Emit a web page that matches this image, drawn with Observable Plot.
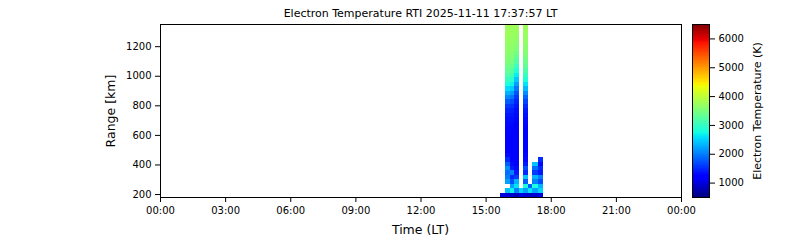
<!DOCTYPE html>
<html>
<head>
<meta charset="utf-8">
<script src="https://cdn.jsdelivr.net/npm/d3@7"></script>
<script src="https://cdn.jsdelivr.net/npm/@observablehq/plot@0.6"></script>
<style>
  html, body { margin: 0; padding: 0; background: white; }
  #chart { position: relative; width: 800px; height: 240px; background: white; font-family: "DejaVu Sans", sans-serif; color: black; }
  .lbl { position: absolute; white-space: nowrap; font-family: "DejaVu Sans", sans-serif; color: black; }
</style>
</head>
<body>
<div id="chart"></div>
<script>
// ---- data ----
const titleText = "Electron Temperature RTI 2025-11-11 17:37:57 LT";
const xLabel = "Time (LT)";
const yLabel = "Range [km]";
const cLabel = "Electron Temperature (K)";

const xTicks = [0, 3, 6, 9, 12, 15, 18, 21, 24];
const xTickLabels = ["00:00", "03:00", "06:00", "09:00", "12:00", "15:00", "18:00", "21:00", "00:00"];
const yTicks = [200, 400, 600, 800, 1000, 1200];
const cTicks = [1000, 2000, 3000, 4000, 5000, 6000];

// time column edges (hours LT)
const timeEdges = [15.66, 15.89, 16.10, 16.31, 16.54, 16.72, 16.93, 17.14, 17.39, 17.64];
// range gate edges (km)
const gateEdges = [180, 210, 240, 270, 300, 330, 360, 390, 420, 450, 480, 510, 540, 570, 600, 630, 660, 690, 720, 750,
  780, 810, 840, 870, 900, 930, 960, 990, 1020, 1050, 1080, 1110, 1140, 1170, 1200, 1230, 1260, 1290, 1320, 1350];

// electron temperature (K) per column, gate by gate from the bottom
const col0 = [1000];
const col1 = [950, 2400, null, 2200, 2000, 1900, 2100, 1800, 1500, 1300,
  1250, 1250, 1250, 1260, 1270, 1280, 1300, 1330, 1380, 1460,
  1600, 1800, 2050, 2300, 2550, 2800, 3000, 3180, 3320, 3430,
  3510, 3570, 3620, 3650, 3680, 3700, 3720, 3740, 3750];
const col2 = [900, 2700, 2200, 1700, 1500, 2000, 1400, 1300, 1250, 1250,
  1230, 1230, 1240, 1250, 1260, 1270, 1290, 1320, 1360, 1430,
  1550, 1720, 1950, 2200, 2450, 2700, 2920, 3100, 3250, 3370,
  3460, 3530, 3590, 3630, 3660, 3690, 3710, 3730, 3750];
const col3 = [850, 2000, 2600, 2300, 1600, 1400, 1300, 1250, 1250, 1250,
  1200, 1200, 1210, 1220, 1230, 1240, 1250, 1270, 1290, 1320,
  1380, 1460, 1580, 1750, 1950, 2180, 2420, 2650, 2850, 3030,
  3200, 3330, 3440, 3530, 3600, 3650, 3690, 3720, 3740];
const col4 = [1000, 2500];
const col5 = [950, 2200, 2800, 1800, 2400, 1500, 1700, 1400, 1300, 1280,
  1220, 1220, 1230, 1240, 1250, 1260, 1280, 1300, 1340, 1400,
  1500, 1650, 1850, 2100, 2350, 2600, 2820, 3000, 3160, 3300,
  3400, 3480, 3550, 3600, 3640, 3680, 3700, 3720, 3740];
const col6 = [900, 2600, 1800];
const col7 = [950, 2200, 2800, 2000, 2300, 1600, 1900, 2400];
const col8 = [1000, 2500, 2300, 1700, 2000, 1400, 1500, 1300, 1500];
const columns = [col0, col1, col2, col3, col4, col5, col6, col7, col8];

const cDomain = [500, 6500];

// ---- matplotlib "jet" colormap ----
function jet(t) {
  const seg = (pts) => {
    for (let k = 1; k < pts.length; k++) {
      if (t <= pts[k][0]) {
        const [x0, y0] = pts[k - 1], [x1, y1] = pts[k];
        return y0 + (y1 - y0) * (t - x0) / (x1 - x0);
      }
    }
    return pts[pts.length - 1][1];
  };
  t = Math.max(0, Math.min(1, t));
  const r = seg([[0, 0], [0.35, 0], [0.66, 1], [0.89, 1], [1, 0.5]]);
  const g = seg([[0, 0], [0.125, 0], [0.375, 1], [0.64, 1], [0.91, 0], [1, 0]]);
  const b = seg([[0, 0.5], [0.11, 1], [0.34, 1], [0.65, 0], [1, 0]]);
  return `rgb(${Math.round(r * 255)},${Math.round(g * 255)},${Math.round(b * 255)})`;
}

// ---- build table ----
const cells = [];
columns.forEach((col, j) => {
  col.forEach((T, i) => {
    if (T != null) cells.push({t1: timeEdges[j], t2: timeEdges[j + 1], r1: gateEdges[i], r2: gateEdges[i + 1], T});
  });
});

const colorScale = {type: "linear", domain: cDomain, interpolate: jet};
const baseStyle = {fontFamily: "DejaVu Sans", fontSize: "10px", color: "black", background: "transparent", overflow: "visible"};

const main = Plot.plot({
  width: 800, height: 240,
  marginLeft: 160, marginRight: 119, marginTop: 24, marginBottom: 43,
  style: baseStyle,
  x: {domain: [0, 24]},
  y: {domain: [180, 1350]},
  color: colorScale,
  marks: [
    Plot.rect(cells, {x1: "t1", x2: "t2", y1: "r1", y2: "r2", fill: "T", shapeRendering: "crispEdges"}),
    Plot.frame({stroke: "black", strokeWidth: 1}),
    Plot.axisX({ticks: xTicks, tickFormat: (d, i) => xTickLabels[i], tickSize: 5, tickPadding: 4, label: null}),
    Plot.axisY({ticks: yTicks, tickFormat: d => String(d), tickSize: 5, tickPadding: 4, label: null})
  ]
});

// colour-bar ramp (overlapping bands so no white seams appear)
const step = 20;
const bands = d3.range(cDomain[0], cDomain[1], step);
const cbar = Plot.plot({
  width: 108, height: 240,
  marginLeft: 0, marginRight: 91, marginTop: 24, marginBottom: 43,
  style: baseStyle,
  x: {domain: [0, 1], axis: null},
  y: {domain: cDomain},
  color: colorScale,
  marks: [
    Plot.rect(bands, {x1: 0, x2: 1, y1: d => d, y2: d => Math.min(cDomain[1], d + 3 * step), fill: d => d + step / 2, shapeRendering: "crispEdges"}),
    Plot.frame({stroke: "black", strokeWidth: 1}),
    Plot.axisY({anchor: "right", ticks: cTicks, tickFormat: d => String(d), tickSize: 5, tickPadding: 4, label: null})
  ]
});

const root = document.getElementById("chart");
main.style.position = "absolute"; main.style.left = "0px"; main.style.top = "0px";
cbar.style.position = "absolute"; cbar.style.left = "692px"; cbar.style.top = "0px";
root.appendChild(main);
root.appendChild(cbar);

function addLabel(text, x, y, size, rotate) {
  const d = document.createElement("div");
  d.className = "lbl";
  d.textContent = text;
  d.style.fontSize = size + "px";
  d.style.left = x + "px";
  d.style.top = y + "px";
  d.style.transform = `translate(-50%, -50%)` + (rotate ? ` rotate(${rotate}deg)` : "");
  root.appendChild(d);
}
addLabel(titleText, 420.5, 12.5, 11, 0);
addLabel(xLabel, 420.5, 229, 12.5, 0);
addLabel(yLabel, 110, 110.5, 12.5, -90);
addLabel(cLabel, 757, 110.5, 11, -90);
</script>
</body>
</html>
